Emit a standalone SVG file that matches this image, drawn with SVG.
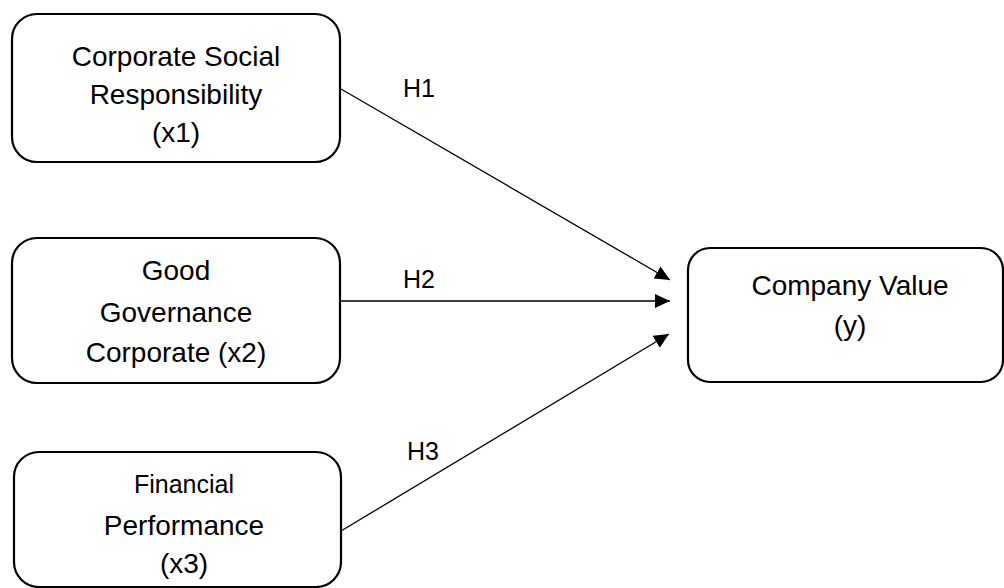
<svg xmlns="http://www.w3.org/2000/svg" width="1004" height="588" viewBox="0 0 1004 588">
<style>
.box{fill:#fff;stroke:#000;stroke-width:2.2}
.t{font-family:"Liberation Sans",Arial,sans-serif;font-size:28px;fill:#000;text-anchor:middle}
.s{font-size:25px}
.lbl{font-family:"Liberation Sans",Arial,sans-serif;font-size:25px;fill:#000}
.con{stroke:#000;stroke-width:1.3;fill:none;marker-end:url(#arr)}
</style>
<defs>
<marker id="arr" markerUnits="userSpaceOnUse" markerWidth="16" markerHeight="14" refX="15" refY="7" orient="auto">
<path d="M0,0 L15,7 L0,14 z" fill="#000"/>
</marker>
</defs>
<rect width="1004" height="588" fill="#fff"/>
<g id="csr">
<rect class="box" x="12" y="14" width="328" height="148" rx="25" ry="25"/>
<text class="t" x="176" y="66">Corporate Social</text>
<text class="t" x="176" y="104">Responsibility</text>
<text class="t" x="176" y="142">(x1)</text>
</g>
<g id="ggc">
<rect class="box" x="12" y="238" width="328" height="145" rx="25" ry="25"/>
<text class="t" x="176" y="280">Good</text>
<text class="t" x="176" y="322">Governance</text>
<text class="t" x="176" y="362">Corporate (x2)</text>
</g>
<g id="fp">
<rect class="box" x="14" y="452" width="327" height="135" rx="25" ry="25"/>
<text class="t s" x="184" y="493">Financial</text>
<text class="t" x="184" y="535">Performance</text>
<text class="t" x="184" y="573">(x3)</text>
</g>
<g id="cv">
<rect class="box" x="688" y="248" width="315" height="134" rx="22" ry="22"/>
<text class="t" x="850" y="295">Company Value</text>
<text class="t" x="850" y="335">(y)</text>
</g>
<g id="connectors">
<line class="con" x1="341" y1="89" x2="670" y2="280"/>
<line class="con" x1="341" y1="301" x2="670" y2="301"/>
<line class="con" x1="341" y1="531" x2="669" y2="334"/>
<text class="lbl" x="403" y="97">H1</text>
<text class="lbl" x="403" y="288">H2</text>
<text class="lbl" x="407" y="460">H3</text>
</g>
</svg>
